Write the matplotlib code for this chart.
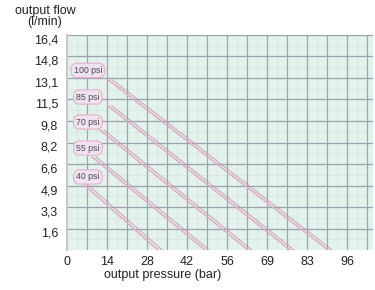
import matplotlib
matplotlib.use("Agg")
import matplotlib.pyplot as plt
import matplotlib.transforms as mtransforms
import numpy as np

plt.rcParams['font.family'] = ['Liberation Sans', 'DejaVu Sans']

# ---- data ----
x_tick_pos = [0, 13.79, 27.58, 41.37, 55.16, 68.95, 82.74, 96.53]
x_tick_labels = ["0", "14", "28", "42", "56", "69", "83", "96"]
y_tick_pos = [1.64, 3.28, 4.92, 6.56, 8.2, 9.84, 11.48, 13.12, 14.76, 16.4]
y_tick_labels = ["1,6", "3,3", "4,9", "6,6", "8,2", "9,8", "11,5", "13,1", "14,8", "16,4"]

series_names = ["100 psi", "85 psi", "70 psi", "55 psi", "40 psi"]
series_x = [[14.1, 90.0], [14.1, 76.9], [11.4, 62.4], [8.6, 47.6], [6.2, 31.4]]
series_y = [[13.0, 0.0], [11.0, 0.0], [9.15, 0.0], [7.1, 0.0], [4.9, 0.0]]
label_x = 7.2
label_y = [13.7, 11.67, 9.76, 7.78, 5.57]

# ---- figure ----
W, H = 375, 290
fig = plt.figure(figsize=(W / 100, H / 100), dpi=100)
ax = fig.add_axes([67 / W, 1 - 250 / H, (373 - 67) / W, (250 - 35) / H])
ax.set_facecolor('#e3f2ec')
ax.set_xlim(0, 105.5)
ax.set_ylim(0, 16.4)

# grid lines
for xv in np.arange(6.895 / 2, 106, 6.895):
    ax.axvline(xv, color='#d3e6e0', lw=0.6, zorder=1)
for xv in np.arange(6.895, 106, 6.895):
    ax.axvline(xv, color='#97aaa7', lw=0.9, zorder=2)
for yv in np.arange(0.82, 16.4, 1.64):
    ax.axhline(yv, color='#d6e8e2', lw=0.6, zorder=1)
for yv in y_tick_pos:
    ax.axhline(yv, color='#9aa2b2', lw=0.9, zorder=2)

# curves (pink with darker companion line)
shadow = mtransforms.offset_copy(ax.transData, fig=fig, x=4, y=0, units='dots')
for xs, ys in zip(series_x, series_y):
    ax.plot(xs, ys, color='#b39fb0', lw=0.8, alpha=0.8, zorder=3, transform=shadow)
    ax.plot(xs, ys, color='#eaa6c0', lw=1.1, zorder=4)

for name, ly in zip(series_names, label_y):
    ax.text(label_x, ly, name, fontsize=6.3, color='#4a4a58', ha='center', va='center', zorder=5,
            bbox=dict(boxstyle='round,pad=0.3,rounding_size=0.7', fc='#f0e2ee', ec='#e6b0cc', lw=0.8))

for s in ['top', 'right', 'bottom']:
    ax.spines[s].set_visible(False)
ax.spines['left'].set_color('#c3cac8')
ax.spines['left'].set_linewidth(1.5)

ax.set_xticks(x_tick_pos)
ax.set_xticklabels(x_tick_labels)
ax.set_yticks(y_tick_pos)
ax.set_yticklabels(y_tick_labels)
ax.tick_params(length=0, labelsize=9, colors='#222222')
ax.tick_params(axis='x', pad=4)
ax.tick_params(axis='y', pad=6.5)
off = mtransforms.ScaledTranslation(0, -4 / 100, fig.dpi_scale_trans)
for lab in ax.get_yticklabels():
    lab.set_transform(lab.get_transform() + off)

fig.text(45 / W, 1 - 11 / H, "output flow", fontsize=9, ha='center', va='center', color='#222222')
fig.text(45 / W, 1 - 22 / H, "(l/min)", fontsize=9, ha='center', va='center', color='#222222')
fig.text(163 / W, 1 - 275 / H, "output pressure (bar)", fontsize=9, ha='center', va='center', color='#222222')

fig.savefig("out.png", dpi=100)
